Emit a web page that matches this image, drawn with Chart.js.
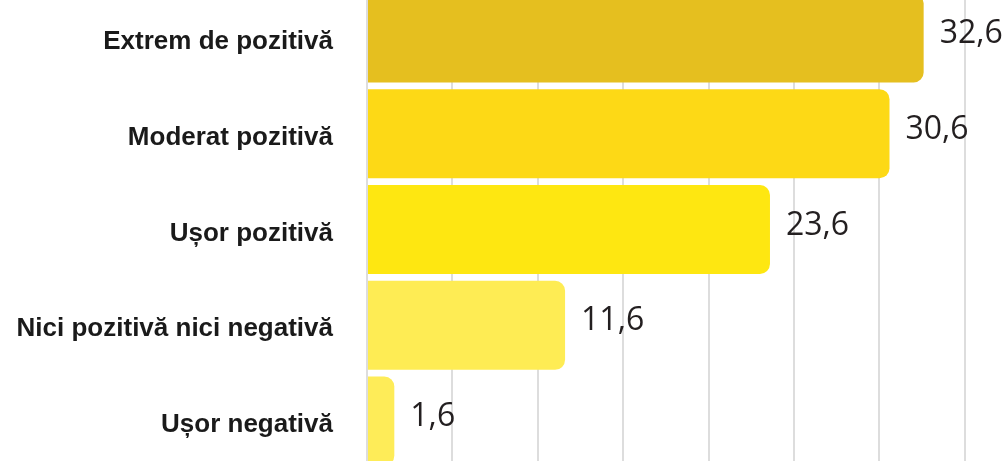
<!DOCTYPE html>
<html>
<head>
<meta charset="utf-8">
<script src="https://cdn.jsdelivr.net/npm/chart.js@4/dist/chart.umd.min.js"></script>
<style>
html, body { margin: 0; padding: 0; background: #fff; overflow: hidden; width: 1004px; height: 461px; }
#wrap { position: absolute; left: 0; top: -10px; width: 1050px; height: 479px; }
</style>
</head>
<body>
<div id="wrap"><canvas id="answerChart"></canvas></div>
<script>
// categories and percentages
const categories = ['Extrem de pozitivă', 'Moderat pozitivă', 'Ușor pozitivă', 'Nici pozitivă nici negativă', 'Ușor negativă'];
const values = [32.6, 30.6, 23.6, 11.6, 1.6];
const barColors = ['#e5bf1f', '#fdd916', '#fee711', '#feec54', '#feec58'];

// draws the "32,6" style numbers right of each bar
const valueLabels = {
    id: 'valueLabels',
    afterDatasetsDraw(chart) {
        const ctx = chart.ctx;
        const meta = chart.getDatasetMeta(0);
        ctx.save();
        ctx.font = '32px "Open Sans"';
        ctx.fillStyle = '#231f20';
        ctx.textAlign = 'left';
        ctx.textBaseline = 'middle';
        meta.data.forEach(function(bar, i) {
            const txt = values[i].toFixed(1).replace('.', ',');
            ctx.fillText(txt, bar.x + 16, bar.y - 4);
        });
        ctx.restore();
    }
};

const ctx = document.getElementById('answerChart').getContext('2d');
const answerChart = new Chart(ctx, {
    type: 'bar',
    data: {
        labels: categories,
        datasets: [{
            data: values,
            backgroundColor: barColors,
            borderWidth: 0,
            borderRadius: { topRight: 10, bottomRight: 10, topLeft: 0, bottomLeft: 0 },
            borderSkipped: false,
            barPercentage: 0.93,
            categoryPercentage: 1
        }]
    },
    options: {
        indexAxis: 'y',
        responsive: true,
        maintainAspectRatio: false,
        animation: false,
        layout: { padding: 0 },
        plugins: {
            legend: { display: false },
            tooltip: { enabled: false }
        },
        scales: {
            x: {
                min: 0,
                max: 40,
                ticks: { display: false, stepSize: 5 },
                grid: { color: '#dddddd', lineWidth: 2, drawTicks: false },
                border: { display: false },
                afterFit: function(scale) { scale.height = 0; }
            },
            y: {
                ticks: {
                    color: '#1a1a1a',
                    padding: 34,
                    labelOffset: 4,
                    font: { family: '"Liberation Sans", Arial, sans-serif', size: 26, weight: 'bold' }
                },
                grid: { display: false, drawTicks: false },
                border: { display: false },
                afterFit: function(scale) {
                    scale.width = 367;
                    // tick padding also pads top/bottom, which we don't want here
                    scale.paddingTop = 0;
                    scale.paddingBottom = 0;
                }
            }
        }
    },
    plugins: [valueLabels]
});
</script>
</body>
</html>
